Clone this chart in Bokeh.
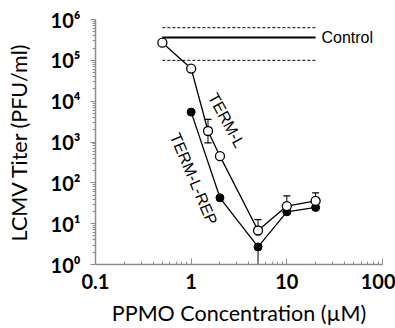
from bokeh.plotting import figure
from bokeh.models import Range1d, FixedTicker
from bokeh.core.properties import value
from bokeh.embed import file_html
from bokeh.resources import INLINE

# ---- data ----
conc_l = [0.5, 1, 1.5, 2, 5, 10, 20]
titer_l = [2.7e5, 6.3e4, 1.86e3, 4.5e2, 6.8, 27, 36]
conc_rep = [1, 2, 5, 10, 20]
titer_rep = [5.4e3, 43, 2.7, 19.5, 25]

err_l_x = [1.5, 5, 10, 20]
err_l_lo = [950, 6.8, 27, 36]
err_l_hi = [3.6e3, 12.6, 48, 57]
err_rep_x = [5]
err_rep_lo = [0.3]
err_rep_hi = [2.7]

ctrl_x = [0.5, 20]
ctrl_mean = 3.6e5
ctrl_hi = 6.3e5
ctrl_lo = 1.0e5

x_ticks = [0.1, 1, 10, 100]
x_labels = ["0.1", "1", "10", "100"]
y_ticks = [1, 10, 100, 1e3, 1e4, 1e5, 1e6]
y_labels = ["10⁰", "10¹", "10²", "10³", "10⁴", "10⁵", "10⁶"]

x_minor = [m * t for t in x_ticks[:-1] for m in range(2, 10)]
y_minor = [m * t for t in y_ticks[:-1] for m in range(2, 10)]

p = figure(width=395, height=328, x_axis_type="log", y_axis_type="log",
           x_range=Range1d(0.1, 100), y_range=Range1d(1, 1e6),
           output_backend="svg", toolbar_location=None,
           min_border_left=95, min_border_right=13, min_border_top=19,
           min_border_bottom=62)
p.outline_line_color = None
p.xgrid.visible = False
p.ygrid.visible = False
p.background_fill_color = "white"

axcol = "#8c8c8c"
p.xaxis.ticker = FixedTicker(ticks=x_ticks, minor_ticks=x_minor)
p.yaxis.ticker = FixedTicker(ticks=y_ticks, minor_ticks=y_minor)
p.xaxis.major_label_overrides = {t: l for t, l in zip(x_ticks, x_labels)}
p.yaxis.major_label_overrides = {t: l for t, l in zip(y_ticks, y_labels)}
for ax in (p.xaxis, p.yaxis):
    ax.axis_line_color = axcol
    ax.axis_line_width = 1.5
    ax.major_tick_line_color = axcol
    ax.minor_tick_line_color = axcol
    ax.major_label_text_font = "Lato"
    ax.major_label_text_font_style = "bold"
    ax.major_label_text_font_size = "20px"
    ax.major_label_text_color = "black"
    ax.axis_label_text_font = "Lato"
    ax.axis_label_text_font_style = "normal"
    ax.axis_label_text_font_size = "21.5px"
    ax.axis_label_text_color = "black"

p.xaxis.major_tick_in = 6
p.xaxis.major_tick_out = 0
p.xaxis.minor_tick_in = 3
p.xaxis.minor_tick_out = 0
p.xaxis.major_label_standoff = 9
p.xaxis.axis_label_standoff = 8
p.xaxis.axis_label = "PPMO Concentration (µM)"

p.yaxis.major_tick_in = 0
p.yaxis.major_tick_out = 5
p.yaxis.minor_tick_in = 0
p.yaxis.minor_tick_out = 3
p.yaxis.major_label_standoff = 10
p.yaxis.axis_label_standoff = 16
p.yaxis.axis_label = "LCMV Titer (PFU/ml)"

# control band
p.line(ctrl_x, [ctrl_mean] * 2, line_color="black", line_width=2)
p.line(ctrl_x, [ctrl_hi] * 2, line_color="black", line_width=1, line_dash="3 2")
p.line(ctrl_x, [ctrl_lo] * 2, line_color="black", line_width=1, line_dash="3 2")
p.text(x=[23], y=[ctrl_mean], text=["Control"], text_font=value("Liberation Sans"),
       text_font_size="16px", text_align="left", text_baseline="middle", text_color="black")

# error bars
p.segment(x0=err_rep_x, y0=err_rep_lo, x1=err_rep_x, y1=err_rep_hi, line_color="black", line_width=1)
p.segment(x0=err_l_x, y0=err_l_lo, x1=err_l_x, y1=err_l_hi, line_color="black", line_width=1)
p.scatter(x=err_l_x, y=err_l_hi, marker="dash", size=7, line_color="black", line_width=1.3)
p.scatter(x=err_l_x[:1], y=err_l_lo[:1], marker="dash", size=7, line_color="black", line_width=1.3)

# series
p.line(conc_rep, titer_rep, line_color="black", line_width=1.3)
p.scatter(conc_rep, titer_rep, marker="circle", size=8, fill_color="black", line_color="black")
p.line(conc_l, titer_l, line_color="black", line_width=1.3)
p.scatter(conc_l, titer_l, marker="circle", size=9, fill_color="white", line_color="black", line_width=1.3)

p.text(x=[2.34], y=[3.4e3], text=["TERM-L"], angle=-1.08, text_font=value("Liberation Sans"),
       text_font_size="16px", text_align="center", text_baseline="middle", text_color="black")
p.text(x=[1.06], y=[125], text=["TERM-L-REP"], angle=-1.17, text_font=value("Liberation Sans"),
       text_font_size="16px", text_align="center", text_baseline="middle", text_color="black")

open("out.html", "w").write(file_html(p, INLINE))
